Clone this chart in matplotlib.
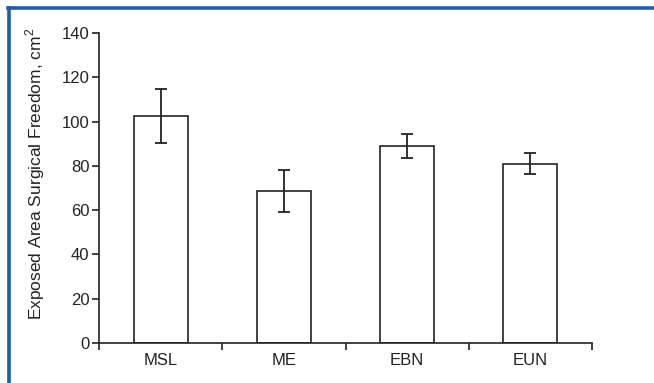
import matplotlib
matplotlib.use("Agg")
import matplotlib.pyplot as plt
from matplotlib.lines import Line2D
import numpy as np

plt.rcParams['font.family'] = ['Liberation Sans', 'DejaVu Sans']
plt.rcParams['mathtext.fontset'] = 'custom'
plt.rcParams['mathtext.rm'] = 'Liberation Sans'

# Approaches and mean exposed area with error
approaches = ['MSL', 'ME', 'EBN', 'EUN']
area_mean = [102.5, 68.5, 89.0, 81.0]
area_err = [12.3, 9.5, 5.6, 4.6]
y_ticks = [0, 20, 40, 60, 80, 100, 120, 140]

ink = '#222222'
frame_blue = '#1f5fa8'

fig = plt.figure(figsize=(6.54, 3.83), dpi=100)
ax = fig.add_axes([0.1514, 0.1044, 0.7538, 0.8094])

x = np.arange(len(approaches))
ax.bar(x, area_mean, width=0.44, color='white', edgecolor=ink, linewidth=1.2, zorder=2)
ax.errorbar(x, area_mean, yerr=area_err, fmt='none', ecolor=ink,
            elinewidth=1.3, capsize=4, capthick=1.3, zorder=3)

ax.set_xlim(-0.5, len(approaches) - 0.5)
ax.set_ylim(0, 140)
ax.set_yticks(y_ticks)
ax.set_xticks(x)
ax.set_xticklabels(approaches)
ax.set_xticks(np.arange(-0.5, len(approaches)), minor=True)
ax.tick_params(axis='x', which='major', length=0, pad=7, labelsize=12, colors=ink)
ax.tick_params(axis='x', which='minor', length=5, width=1.2, color=ink, direction='out')
ax.tick_params(axis='y', length=5, width=1.2, color=ink, labelsize=12, labelcolor=ink, pad=2)

for side in ['top', 'right']:
    ax.spines[side].set_visible(False)
for side in ['left', 'bottom']:
    ax.spines[side].set_linewidth(1.2)
    ax.spines[side].set_color(ink)

ax.set_ylabel('Exposed Area Surgical Freedom, cm$^2$', fontsize=12.5, color=ink)
ax.yaxis.set_label_coords(-0.105, 0.545)

# blue frame along the top and left edge
fig.add_artist(Line2D([0.0115, 1.0], [0.978, 0.978], transform=fig.transFigure,
                      color=frame_blue, linewidth=2.6))
fig.add_artist(Line2D([0.0145, 0.0145], [0.0, 0.98], transform=fig.transFigure,
                      color=frame_blue, linewidth=2.6))

fig.savefig('out.png', dpi=100, facecolor='white')
